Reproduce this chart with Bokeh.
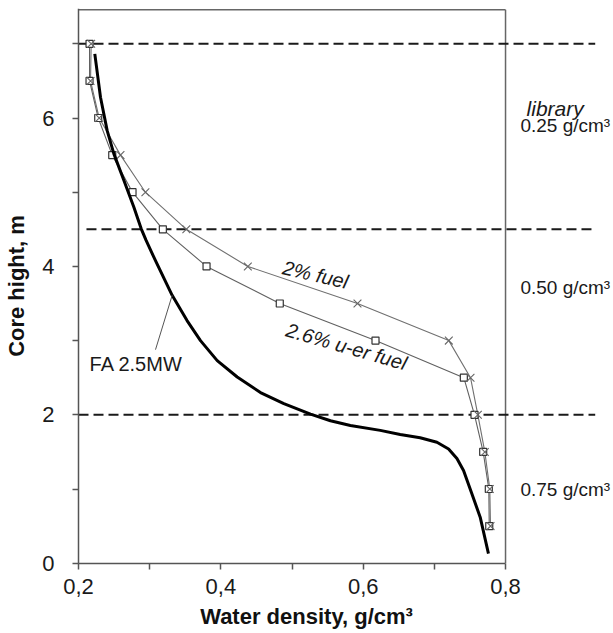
from bokeh.plotting import figure
from bokeh.models import FixedTicker, Range1d
from bokeh.core.properties import value
from bokeh.embed import file_html
from bokeh.resources import INLINE

# ---------------- data ----------------
fa_density = [0.2229, 0.2309, 0.2403, 0.2496, 0.2637, 0.2777, 0.288, 0.2950, 0.3080,
              0.3316, 0.3525, 0.3714, 0.3949, 0.4230, 0.4557, 0.4885, 0.526, 0.554,
              0.582, 0.624, 0.652, 0.680, 0.7036, 0.720, 0.7317, 0.741, 0.7527,
              0.7644, 0.776]
fa_height = [6.865, 6.28, 5.83, 5.52, 5.16, 4.80, 4.51, 4.35, 4.08,
             3.61, 3.27, 3.00, 2.73, 2.51, 2.30, 2.15, 2.01, 1.92,
             1.856, 1.79, 1.735, 1.69, 1.63, 1.54, 1.41, 1.25, 0.935,
             0.62, 0.13]

heights = [7.0, 6.5, 6.0, 5.5, 5.0, 4.5, 4.0, 3.5, 3.0, 2.5, 2.0, 1.5, 1.0, 0.5]
fuel2_density = [0.2178, 0.2169, 0.2291, 0.2590, 0.2940, 0.3515, 0.4379, 0.5920,
                 0.7203, 0.7508, 0.7611, 0.7709, 0.7779, 0.7789]
fuel26_density = [0.2155, 0.2155, 0.2277, 0.2474, 0.2759, 0.3185, 0.3799, 0.4828,
                  0.6173, 0.7414, 0.7564, 0.7686, 0.7765, 0.7771]

library_bounds = [7.0, 4.5, 2.0]
library_labels = ["0.25 g/cm³", "0.50 g/cm³", "0.75 g/cm³"]
library_label_y = [5.90, 3.72, 0.99]

x_ticks = [0.2, 0.4, 0.6, 0.8]
x_minor = [0.3, 0.5, 0.7]
x_tick_labels = ["0,2", "0,4", "0,6", "0,8"]
y_ticks = [0, 2, 4, 6]
y_minor = [1, 3, 5, 7]

FONT = "Liberation Sans"
Y_TOP = 7.476
TOP = 7.46

p = figure(width=613, height=630, output_backend="svg", toolbar_location=None,
           x_range=Range1d(0.0904, 0.9517), y_range=Range1d(-0.907, Y_TOP),
           min_border_left=0, min_border_right=0, min_border_top=8,
           min_border_bottom=0)
p.outline_line_color = None
p.xgrid.visible = False
p.ygrid.visible = False
p.background_fill_color = "white"
p.border_fill_color = "white"

# axes (placed at the data origin 0.2 / 0)
p.xaxis.ticker = FixedTicker(ticks=x_ticks, minor_ticks=x_minor)
p.xaxis.major_label_overrides = {t: l for t, l in zip(x_ticks, x_tick_labels)}
p.xaxis.bounds = (0.2, 0.8)
p.xaxis.fixed_location = 0
p.yaxis.ticker = FixedTicker(ticks=y_ticks, minor_ticks=y_minor)
p.yaxis.bounds = (0, Y_TOP)
p.yaxis.fixed_location = 0.2
for ax in (p.xaxis[0], p.yaxis[0]):
    ax.axis_line_color = "#555555"
    ax.axis_line_width = 1.5
    ax.major_tick_line_color = "#555555"
    ax.minor_tick_line_color = "#555555"
    ax.major_tick_line_width = 1.5
    ax.minor_tick_line_width = 1.5
    ax.major_tick_in = 0
    ax.minor_tick_in = 0
    ax.major_tick_out = 6
    ax.minor_tick_out = 6
    ax.major_label_text_font = FONT
    ax.major_label_text_font_size = "22px"
    ax.major_label_text_color = "#1a1a1a"
p.xaxis.major_label_standoff = 10
p.yaxis.major_label_standoff = 18
p.yaxis.axis_label = "Core hight, m"
p.yaxis.axis_label_text_font = FONT
p.yaxis.axis_label_text_font_size = "22px"
p.yaxis.axis_label_text_font_style = "bold"
p.yaxis.axis_label_text_color = "#111111"
p.yaxis.axis_label_standoff = 10

# frame top & right border
p.segment(x0=[0.2, 0.8], y0=[TOP, 0], x1=[0.8, 0.8], y1=[TOP, TOP],
          line_color="#666666", line_width=1.5)

# library boundary dashed lines
for yb in library_bounds:
    x_start = 0.2112 if yb == 4.5 else 0.2
    p.line([x_start, 0.926], [yb, yb], line_color="#1a1a1a", line_width=2,
           line_dash="10 5")

# series lines
p.line(fuel2_density, heights, line_color="#707070", line_width=1.1)
p.line(fuel26_density, heights, line_color="#606060", line_width=1.1)
p.scatter(fuel26_density, heights, marker="square", size=7,
          fill_color="white", line_color="#333333", line_width=1.2)
p.scatter(fuel2_density, heights, marker="x", size=11,
          line_color="#666666", line_width=1.1)
p.line(fa_density, fa_height, line_color="black", line_width=3,
       line_join="round")

# leader line for FA label
p.line([0.3082, 0.3316], [2.878, 3.61], line_color="#555555", line_width=1)

# in-plot labels
p.text(x=[0.2155], y=[2.68], text=["FA 2.5MW"], text_font=value(FONT),
       text_font_size="20px", text_align="left", text_baseline="middle",
       text_color="#1a1a1a")
p.text(x=[0.533], y=[3.89], text=["2% fuel"], text_font=value(FONT),
       text_font_size="20px", text_font_style="italic", text_align="center",
       text_baseline="middle", angle=-13, angle_units="deg", text_color="#1a1a1a")
p.text(x=[0.5766], y=[2.92], text=["2.6% u-er fuel"], text_font=value(FONT),
       text_font_size="20px", text_font_style="italic", text_align="center",
       text_baseline="middle", angle=-16, angle_units="deg", text_color="#1a1a1a")

# right-side library labels
p.text(x=[0.8697], y=[6.13], text=["library"], text_font=value(FONT),
       text_font_size="21px", text_font_style="italic", text_align="center",
       text_baseline="middle", text_color="#1a1a1a")
p.text(x=[0.8209] * 3, y=library_label_y, text=library_labels,
       text_font=value(FONT), text_font_size="19px", text_align="left",
       text_baseline="middle", text_color="#1a1a1a")

# x axis title
p.text(x=[0.5204], y=[-0.718], text=["Water density, g/cm³"],
       text_font=value(FONT), text_font_size="22px", text_font_style="bold",
       text_align="center", text_baseline="alphabetic", text_color="#111111")

open("out.html", "w").write(file_html(p, INLINE))
